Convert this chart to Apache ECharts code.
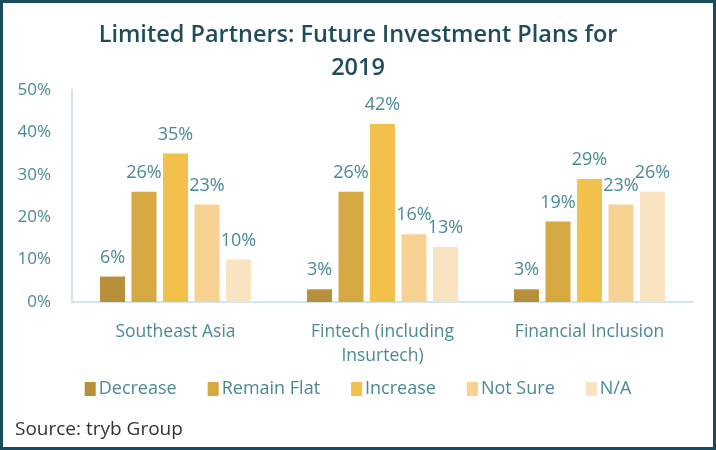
<!DOCTYPE html>
<html><head><meta charset="utf-8">
<script src="https://cdn.jsdelivr.net/npm/echarts@6/dist/echarts.min.js"></script>
<style>html,body{margin:0;padding:0;background:#fff}#c{width:716px;height:450px}</style>
</head><body><div id="c"></div>
<script>
const categories = ['Southeast Asia', 'Fintech (including\nInsurtech)', 'Financial Inclusion'];
const seriesNames = ['Decrease', 'Remain Flat', 'Increase', 'Not Sure', 'N/A'];
const decrease = [6, 3, 3];
const remainFlat = [26, 26, 19];
const increase = [35, 42, 29];
const notSure = [23, 16, 23];
const na = [10, 13, 26];
const yTicks = [0, 10, 20, 30, 40, 50];
const colors = ['#B8903A', '#D6A842', '#F2C14C', '#F7D293', '#F9E3C1'];
const values = [decrease, remainFlat, increase, notSure, na];
const txt = '#4A8995';
const chart = echarts.init(document.getElementById('c'), null, {renderer: 'canvas'});
chart.setOption({
  animation: false,
  backgroundColor: '#fff',
  title: {
    text: 'Limited Partners: Future Investment Plans for\n2019',
    left: 'center', top: 14,
    textStyle: {fontFamily: 'Open Sans', fontWeight: 600, fontSize: 23.5, color: '#1F4D5B', lineHeight: 33}
  },
  legend: {
    bottom: 47, left: 'center', itemWidth: 11, itemHeight: 14, itemGap: 31,
    icon: 'rect',
    textStyle: {fontFamily: 'Open Sans', fontSize: 18, color: txt, padding: [0, 0, 0, -2]},
    data: seriesNames
  },
  grid: {left: 72, right: 23, top: 90, bottom: 148, containLabel: false},
  xAxis: {
    type: 'category', data: categories,
    axisLine: {lineStyle: {color: '#D3E5EB', width: 2}},
    axisTick: {show: false},
    axisLabel: {fontFamily: 'Open Sans', fontSize: 17.5, color: txt, lineHeight: 24, margin: 18}
  },
  yAxis: {
    type: 'value', min: yTicks[0], max: yTicks[yTicks.length - 1], interval: 10,
    axisLine: {show: true, lineStyle: {color: '#D3E5EB', width: 2}},
    axisTick: {show: false},
    splitLine: {show: false},
    axisLabel: {fontFamily: 'Open Sans', fontSize: 17, color: txt, margin: 21, formatter: v => v + '%'}
  },
  series: seriesNames.map((n, i) => ({
    name: n, type: 'bar', data: values[i], barWidth: 25, barGap: '26%',
    itemStyle: {color: colors[i]},
    label: {show: true, position: 'top', distance: 10, fontFamily: 'Open Sans', fontSize: 18, color: txt, formatter: p => p.value + '%'}
  })),
  graphic: [
    {type: 'text', left: 15, top: 420, style: {text: 'Source: tryb Group', fontFamily: 'Open Sans', fontSize: 19, fill: '#333'}},
    {type: 'rect', shape: {x: 1.5, y: 1.5, width: 713, height: 447}, style: {fill: 'none', stroke: '#1D4A5C', lineWidth: 3}, z: 100}
  ]
});
</script></body></html>
